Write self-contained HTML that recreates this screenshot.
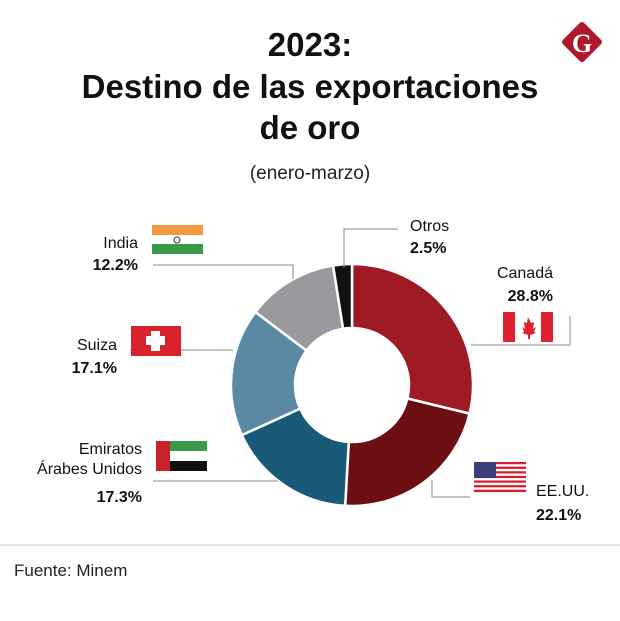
<!DOCTYPE html>
<html><head><meta charset="utf-8"><style>
body{margin:0;background:#fff;width:620px;height:616px;overflow:hidden;font-family:"Liberation Sans",sans-serif;}
</style></head><body>
<svg width="620" height="616" font-family="Liberation Sans, sans-serif">
<g font-weight="bold" font-size="33" text-anchor="middle" fill="#111">
<text x="310" y="56">2023:</text>
<text x="310" y="98">Destino de las exportaciones</text>
<text x="310" y="139">de oro</text>
</g>
<text x="310" y="179" font-size="19" text-anchor="middle" fill="#222">(enero-marzo)</text>
<g>
<rect x="567" y="27" width="30" height="30" rx="3" fill="#b0172b" transform="rotate(45 582 42)"/>
<text x="582" y="52" font-size="26" font-weight="bold" font-family="Liberation Serif, serif" fill="#fff" text-anchor="middle">G</text>
</g>
<g id="donut"></g>
<g fill="none" stroke="#888" stroke-width="1">
<polyline points="153,265 293,265 293,279"/>
<polyline points="344,268 344,229 398,229"/>
<polyline points="471,345 570,345 570,316"/>
<polyline points="130,350 233,350"/>
<polyline points="153,481 278,481"/>
<polyline points="432,480 432,497 470,497"/>
</g>
<g font-size="16" fill="#111">
<text x="138" y="248" text-anchor="end">India</text>
<text x="138" y="270" text-anchor="end" font-weight="bold">12.2%</text>
<text x="410" y="231">Otros</text>
<text x="410" y="253" font-weight="bold">2.5%</text>
<text x="553" y="278" text-anchor="end">Canadá</text>
<text x="553" y="301" text-anchor="end" font-weight="bold">28.8%</text>
<text x="117" y="350" text-anchor="end">Suiza</text>
<text x="117" y="373" text-anchor="end" font-weight="bold">17.1%</text>
<text x="142" y="454" text-anchor="end">Emiratos</text>
<text x="142" y="474" text-anchor="end">Árabes Unidos</text>
<text x="142" y="502" text-anchor="end" font-weight="bold">17.3%</text>
<text x="536" y="496">EE.UU.</text>
<text x="536" y="520" font-weight="bold">22.1%</text>
</g>
<g>
<rect x="152" y="225" width="51" height="10" fill="#f39a3e"/><rect x="152" y="235" width="51" height="9" fill="#fff"/><rect x="152" y="244" width="51" height="10" fill="#3a9a4a"/><circle cx="177" cy="240" r="3" fill="none" stroke="#334" stroke-width="1"/>
</g>
<g>
<rect x="503" y="312" width="12" height="30" fill="#e02030"/><rect x="541" y="312" width="12" height="30" fill="#e02030"/><path d="M528 317 l3 6 3-1 -1 7 3-2 -2 5 2 1 -6 2 v4 h-2 v-4 l-6-2 2-1 -2-5 3 2 -1-7 3 1z" fill="#e02030"/>
</g>
<g>
<rect x="131" y="326" width="50" height="30" fill="#d8232a"/><rect x="151" y="331" width="9" height="20" fill="#fff"/><rect x="146" y="336" width="19" height="9" fill="#fff"/>
</g>
<g>
<rect x="156" y="441" width="14" height="30" fill="#c8232a"/><rect x="170" y="441" width="37" height="10" fill="#3a9a4a"/><rect x="170" y="451" width="37" height="10" fill="#fff"/><rect x="170" y="461" width="37" height="10" fill="#111"/>
</g>
<g id="usflag"></g>
<line x1="0" y1="545" x2="620" y2="545" stroke="#ccc"/>
<text x="14" y="576" font-size="17" fill="#222">Fuente: Minem</text>
</svg>
<script>
const categories=["Canadá","EE.UU.","Emiratos Árabes Unidos","Suiza","India","Otros"];
const values=[28.8,22.1,17.3,17.1,12.2,2.5];
const colors=["#9e1b26","#6d0f12","#185a78","#5a89a4","#9a9a9e","#111111"];
const ns="http://www.w3.org/2000/svg";
const cx=352,cy=385,R=121,r=57;
const total=values.reduce((a,b)=>a+b,0);
const g=document.getElementById('donut');
let a0=0;
function pt(a,rad){return [cx+rad*Math.sin(a),cy-rad*Math.cos(a)];}
values.forEach((v,i)=>{
 const a1=a0+v/total*2*Math.PI;
 const [x1,y1]=pt(a0,R),[x2,y2]=pt(a1,R),[x3,y3]=pt(a1,r),[x4,y4]=pt(a0,r);
 const lg=(a1-a0)>Math.PI?1:0;
 const p=document.createElementNS(ns,'path');
 p.setAttribute('d',`M${x1},${y1}A${R},${R} 0 ${lg} 1 ${x2},${y2}L${x3},${y3}A${r},${r} 0 ${lg} 0 ${x4},${y4}Z`);
 p.setAttribute('fill',colors[i]);p.setAttribute('stroke','#fff');p.setAttribute('stroke-width','2.5');
 
 
 g.appendChild(p);a0=a1;
});
const us=document.getElementById('usflag');
for(let k=0;k<13;k++){const s=document.createElementNS(ns,'rect');s.setAttribute('x',474);s.setAttribute('y',462+k*30/13);s.setAttribute('width',52);s.setAttribute('height',30/13+0.1);s.setAttribute('fill',k%2?'#fff':'#d4202c');us.appendChild(s);}
const c=document.createElementNS(ns,'rect');c.setAttribute('x',474);c.setAttribute('y',462);c.setAttribute('width',22);c.setAttribute('height',16);c.setAttribute('fill','#3b3f7a');us.appendChild(c);
</script>
</body></html>
